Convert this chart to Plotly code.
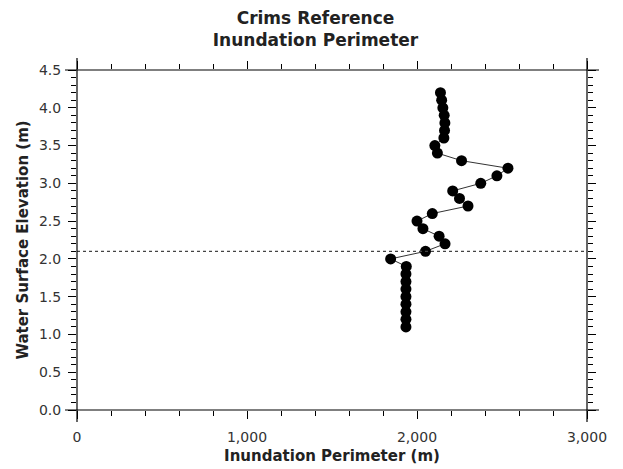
import plotly.graph_objects as go

# Water surface elevation (m) and inundation perimeter (m)
elevation = [1.1, 1.2, 1.3, 1.4, 1.5, 1.6, 1.7, 1.8, 1.9, 2.0,
             2.1, 2.2, 2.3, 2.4, 2.5, 2.6, 2.7, 2.8, 2.9, 3.0,
             3.1, 3.2, 3.3, 3.4, 3.5, 3.6, 3.7, 3.8, 3.9, 4.0,
             4.1, 4.2]
perimeter = [1935, 1935, 1935, 1935, 1935, 1935, 1935, 1935, 1937, 1845,
             2050, 2165, 2130, 2035, 2000, 2090, 2300, 2250, 2210, 2375,
             2470, 2535, 2262, 2120, 2105, 2158, 2162, 2164, 2160, 2152,
             2145, 2138]
reference_elev = 2.1

FONT = "DejaVu Sans"

fig = go.Figure()
fig.add_trace(go.Scatter(
    x=perimeter, y=elevation, mode="lines+markers",
    line=dict(color="#333333", width=1),
    marker=dict(color="black", size=11),
    showlegend=False,
))
fig.add_hline(y=reference_elev, line_dash="3px,3px", line_color="#444444", line_width=1.2)

# axis lines that overshoot the corners slightly
ox, oy = 12 / 510, 12 / 340
fig.add_shape(type="line", xref="paper", yref="paper", x0=-ox, x1=1 + ox, y0=0, y1=0,
              line=dict(color="black", width=1.2))
fig.add_shape(type="line", xref="paper", yref="paper", x0=-ox, x1=1 + ox, y0=1, y1=1,
              line=dict(color="black", width=1.2))
fig.add_shape(type="line", xref="paper", yref="paper", x0=0, x1=0, y0=-oy, y1=1 + oy,
              line=dict(color="black", width=1.2))
fig.add_shape(type="line", xref="paper", yref="paper", x0=1, x1=1, y0=-oy, y1=1 + oy,
              line=dict(color="black", width=1.2))

fig.update_xaxes(
    range=[0, 3000], tickvals=[0, 1000, 2000, 3000], tickformat=",d",
    ticks="outside", ticklen=8, tickwidth=1, tickcolor="black", mirror="ticks",
    showgrid=False, zeroline=False, showline=False, automargin=False,
    ticklabelstandoff=6,
    minor=dict(dtick=200, ticks="outside", ticklen=5, tickcolor="black", showgrid=False),
    tickfont=dict(family=FONT, size=14, color="#333333"),
    title=dict(text="<b>Inundation Perimeter (m)</b>", standoff=6,
               font=dict(family=FONT, size=15, color="#222222")),
)
fig.update_yaxes(
    range=[0, 4.5], dtick=0.5, tickformat=".1f",
    ticks="outside", ticklen=8, tickwidth=1, tickcolor="black", mirror="ticks",
    showgrid=False, zeroline=False, showline=False, automargin=False,
    ticklabelstandoff=4,
    minor=dict(dtick=0.1, ticks="outside", ticklen=5, tickcolor="black", showgrid=False),
    tickfont=dict(family=FONT, size=14, color="#333333"),
    title=dict(text="<b>Water Surface Elevation (m)</b>", standoff=6,
               font=dict(family=FONT, size=15, color="#222222")),
)
# the page body adds an 8 px offset, so the figure is sized and placed to match
fig.update_layout(
    width=615, height=461,
    margin=dict(l=69, r=36, t=62, b=59),
    paper_bgcolor="white", plot_bgcolor="white",
    title=dict(text="<b>Crims Reference<br>Inundation Perimeter</b>",
               x=0.5, xanchor="center", y=1 - 16 / 461, yanchor="middle",
               font=dict(family=FONT, size=17, color="#222222")),
)
fig.write_html("out.html")
